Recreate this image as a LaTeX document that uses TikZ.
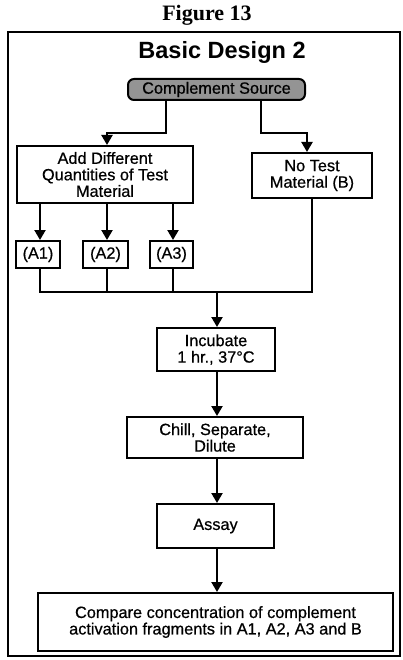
\documentclass[tikz,border=0pt]{standalone}
\usepackage{fontspec}
\setmainfont{Liberation Sans}
\newfontfamily\boxfont[FakeBold=0.6]{Liberation Sans}
\newfontfamily\titleserif{Liberation Serif}
\usetikzlibrary{arrows.meta}
\begin{document}
\begin{tikzpicture}[x=1pt,y=-1pt,
  stepbox/.style={draw,line width=2pt,inner sep=0pt,align=center,
    font=\boxfont\fontsize{16.3}{16.5}\selectfont},
  conn/.style={line width=2.2pt},
  arr/.style={line width=2.2pt,-{Triangle[width=11pt,length=10pt]}}]
\useasboundingbox (0,0) rectangle (403,660);
\fill[white] (0,0) rectangle (403,660);
% title and frame
\node[font=\titleserif\bfseries\fontsize{22}{24}\selectfont] (fig) at (207,15) {Figure 13};
\draw[line width=2.2pt] (8,32) rectangle (400,656);
\node[font=\bfseries\fontsize{23.5}{26}\selectfont] (title) at (222,52) {Basic Design 2};
% boxes
\node[stepbox,rounded corners=6pt,fill=black!42,minimum width=177pt,minimum height=21pt] (src) at (216.5,89.5) {Complement Source};
\node[stepbox,minimum width=176pt,minimum height=57pt] (add) at (105,174.5) {Add Different\\Quantities of Test\\Material};
\node[stepbox,minimum width=120pt,minimum height=45pt] (notest) at (312,175.5) {No Test\\Material (B)};
\node[stepbox,minimum width=44pt,minimum height=27pt] (a1) at (38,254.5) {(A1)};
\node[stepbox,minimum width=45pt,minimum height=27pt] (a2) at (105.5,254.5) {(A2)};
\node[stepbox,minimum width=43pt,minimum height=27pt] (a3) at (171.5,254.5) {(A3)};
\node[stepbox,minimum width=118pt,minimum height=43pt] (inc) at (216,349.5) {Incubate\\1 hr., 37°C};
\node[stepbox,minimum width=176pt,minimum height=41pt] (chill) at (215,437.5) {Chill, Separate,\\Dilute};
\node[stepbox,minimum width=117pt,minimum height=44pt] (assay) at (215.5,526) {Assay};
\node[stepbox,minimum width=355pt,minimum height=58pt] (cmp) at (215.5,622) {Compare concentration of complement\\activation fragments in A1, A2, A3 and B};
% connectors
\draw[arr] ([xshift=-50.5]src.south) -- ++(0,32) -| ([xshift=2]add.north);
\draw[arr] ([xshift=44.5]src.south) -- ++(0,32) -| ([xshift=-5]notest.north);
\draw[arr] ([xshift=2]add.south -| a1.north) -- ([xshift=2]a1.north);
\draw[arr] ([xshift=1.5]add.south -| a2.north) -- ([xshift=1.5]a2.north);
\draw[arr] ([xshift=1.5]add.south -| a3.north) -- ([xshift=1.5]a3.north);
\coordinate (j) at (217,292);
\draw[conn] ([xshift=2]a1.south) -- ([xshift=2]a1.south |- j);
\draw[conn] ([xshift=1.5]a2.south) -- ([xshift=1.5]a2.south |- j);
\draw[conn] ([xshift=1.5]a3.south) -- ([xshift=1.5]a3.south |- j);
\draw[conn] (notest.south) -- (notest.south |- j);
\draw[conn] ([xshift=1]a1.south |- j) -- ([xshift=1]notest.south |- j);
\draw[arr] (j) -- (j |- inc.north);
\draw[arr] (inc.south -| j) -- (chill.north -| j);
\draw[arr] (chill.south -| j) -- (assay.north -| j);
\draw[arr] (assay.south -| j) -- (cmp.north -| j);
\end{tikzpicture}
\end{document}
